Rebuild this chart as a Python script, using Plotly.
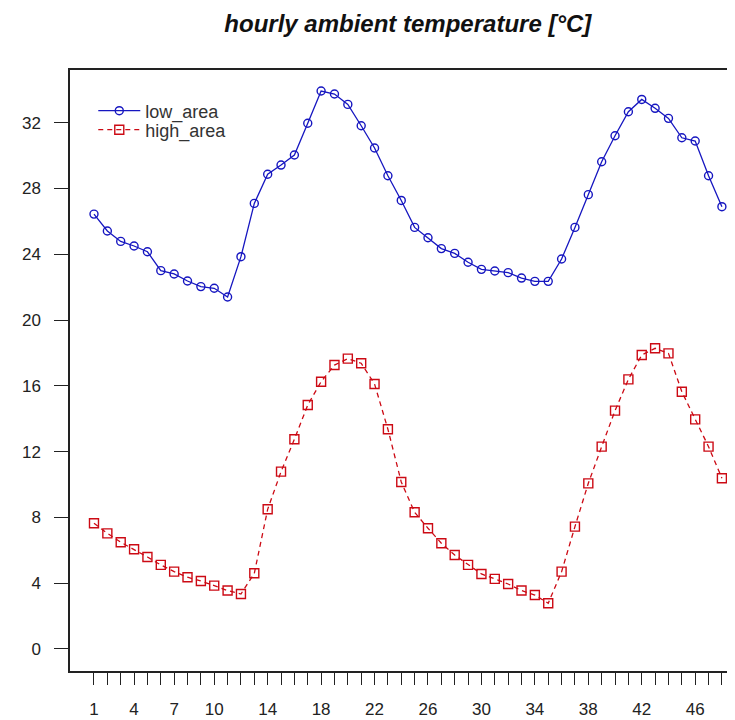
import plotly.graph_objects as go

hours = list(range(1, 49))

low_area = [26.44, 25.41, 24.78, 24.50, 24.15, 23.00, 22.80, 22.37, 22.03, 21.93,
            21.40, 23.85, 27.09, 28.86, 29.42, 30.03, 31.96, 33.92, 33.74, 33.11,
            31.81, 30.46, 28.77, 27.27, 25.63, 25.00, 24.34, 24.05, 23.51, 23.08,
            22.98, 22.88, 22.55, 22.35, 22.35, 23.71, 25.63, 27.62, 29.62, 31.20,
            32.66, 33.41, 32.87, 32.26, 31.08, 30.88, 28.77, 26.89]

high_area = [7.64, 7.03, 6.49, 6.06, 5.59, 5.11, 4.70, 4.36, 4.13, 3.85,
             3.55, 3.34, 4.60, 8.49, 10.78, 12.75, 14.83, 16.25, 17.26, 17.65,
             17.37, 16.11, 13.36, 10.15, 8.31, 7.34, 6.43, 5.71, 5.11, 4.56,
             4.26, 3.95, 3.55, 3.28, 2.78, 4.70, 7.44, 10.07, 12.30, 14.49,
             16.39, 17.87, 18.28, 17.97, 15.64, 13.96, 12.30, 10.38]

x_labels_shown = [1, 4, 7, 10, 14, 18, 22, 26, 30, 34, 38, 42, 46]
x_ticktext = [str(h) if h in x_labels_shown else "" for h in hours]
y_ticks = [0, 4, 8, 12, 16, 20, 24, 28, 32]

BLUE = "#1616C0"
RED = "#CC0A14"
INK = "#222222"

fig = go.Figure()
fig.add_trace(go.Scatter(
    x=hours, y=low_area, name="low_area", mode="lines+markers", legend="legend",
    line=dict(color=BLUE, width=1.3),
    marker=dict(symbol="circle-open", size=8, color=BLUE, line=dict(width=1.4, color=BLUE)),
))
fig.add_trace(go.Scatter(
    x=hours, y=high_area, name="high_area", mode="lines+markers", legend="legend2",
    line=dict(color=RED, width=1.3, dash="5px,4px"),
    marker=dict(symbol="square-open", size=9, color=RED, line=dict(width=1.4, color=RED)),
))

legend_common = dict(xanchor="left", yanchor="middle", bgcolor="rgba(0,0,0,0)",
                     borderwidth=0, itemwidth=42, font=dict(size=18, color="#333333"))

fig.update_layout(
    width=735, height=720,
    margin=dict(l=62, r=8, t=62, b=57),
    paper_bgcolor="white", plot_bgcolor="white",
    font=dict(family="Liberation Sans, Arial, sans-serif", color=INK),
    title=dict(text="<b><i>hourly ambient temperature [°C]</i></b>",
               x=0.544, xanchor="center", y=0.978, yanchor="middle",
               font=dict(size=24, color="#111111")),
    showlegend=True,
    legend=dict(x=0.035, y=0.9318, **legend_common),
    legend2=dict(x=0.035, y=0.9002, **legend_common),
    xaxis=dict(range=[-0.796, 48.98], tickmode="array", tickvals=hours,
               ticktext=x_ticktext, ticks="outside", ticklen=12, tickwidth=1,
               tickcolor=INK, showline=True, linecolor=INK, linewidth=1.5,
               mirror=True, showgrid=False, zeroline=False,
               tickfont=dict(size=17, color=INK), ticklabelstandoff=10),
    yaxis=dict(range=[-1.34, 35.2], tickmode="array", tickvals=y_ticks,
               ticks="outside", ticklen=14, tickwidth=1, tickcolor=INK,
               showline=True, linecolor=INK, linewidth=1.5, mirror=False,
               showgrid=False, zeroline=False,
               tickfont=dict(size=17, color=INK), ticklabelstandoff=10),
)

fig.write_html("out.html")
